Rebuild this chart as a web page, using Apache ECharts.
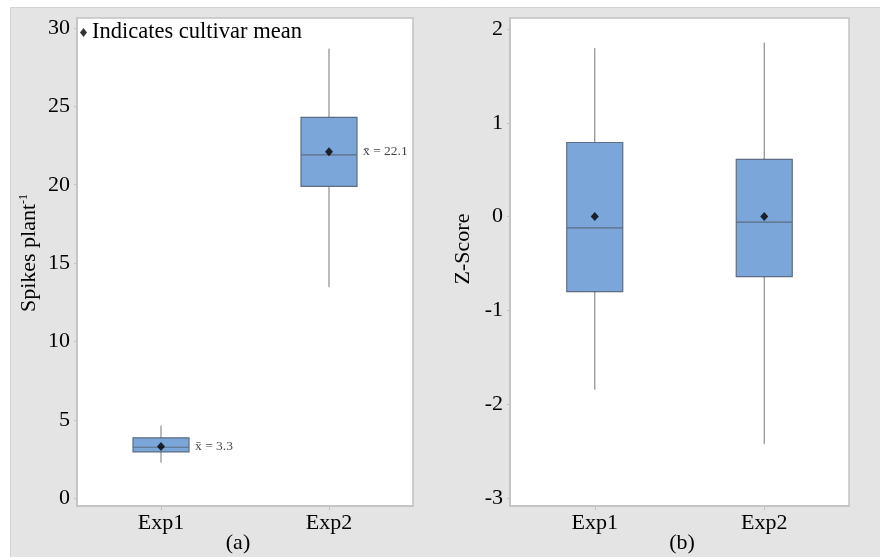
<!DOCTYPE html>
<html>
<head>
<meta charset="utf-8">
<script src="https://cdn.jsdelivr.net/npm/echarts@6/dist/echarts.min.js"></script>
<style>
html,body{margin:0;padding:0;background:#fff;}
#chart{width:880px;height:557px;}
</style>
</head>
<body>
<div id="chart"></div>
<script>
// ---- data ----
const categories = ['Exp1', 'Exp2'];
// [min, Q1, median, Q3, max]
const spikesBox = [[2.3, 2.95, 3.25, 3.85, 4.6], [13.5, 19.9, 21.9, 24.3, 28.65]];
const spikesMean = [3.3, 22.1];
const spikesMeanLabels = ['3.3', '22.1'];
const zBox = [[-1.84, -0.80, -0.12, 0.79, 1.79], [-2.42, -0.64, -0.06, 0.61, 1.85]];
const zMean = [0, 0];
const spikesTicks = [0, 5, 10, 15, 20, 25, 30];
const zTicks = [-3, -2, -1, 0, 1, 2];
const legendText = 'Indicates cultivar mean';
const panelLabels = ['(a)', '(b)'];
const yNames = ['Spikes plant', 'Z-Score'];

const FONT = "'Liberation Serif', 'Times New Roman', serif";
const FRAME = '#c2c2c2';
const BOXFILL = '#7ba6d9';
const BOXLINE = '#5e6d82';
const WHISK = '#8e8e8e';
const TXT = '#000';

function boxOnly(d) { return [d[1], d[1], d[2], d[3], d[3]]; }

function catAxis(gridIndex, show) {
  return {
    type: 'category', gridIndex: gridIndex, data: categories, boundaryGap: true, show: show,
    axisLine: { show: true, onZero: false, lineStyle: { color: FRAME, width: 1.5 } },
    axisTick: { show: true, alignWithLabel: true, length: 4, lineStyle: { color: FRAME } },
    axisLabel: { color: TXT, fontFamily: FONT, fontSize: 22, margin: 6 },
    splitLine: { show: false }
  };
}

function valAxis(gridIndex, min, max, ticks) {
  return {
    type: 'value', gridIndex: gridIndex, min: min, max: max,
    axisLine: { show: true, onZero: false, lineStyle: { color: FRAME, width: 1.5 } },
    axisTick: { show: true, length: 3, customValues: ticks, lineStyle: { color: FRAME } },
    axisLabel: { color: TXT, fontFamily: FONT, fontSize: 22, margin: 7, customValues: ticks },
    splitLine: { show: false }
  };
}

function whiskerSeries(xi, yi, data) {
  return {
    type: 'boxplot', xAxisIndex: xi, yAxisIndex: yi, z: 2,
    boxWidth: [1, 1],
    itemStyle: { color: WHISK, borderColor: WHISK, borderWidth: 1.2 },
    emphasis: { disabled: true },
    data: data
  };
}
function boxSeries(xi, yi, data) {
  return {
    type: 'boxplot', xAxisIndex: xi, yAxisIndex: yi, z: 3,
    boxWidth: [56, 56],
    itemStyle: { color: BOXFILL, borderColor: BOXLINE, borderWidth: 1.2 },
    emphasis: { disabled: true },
    data: data.map(boxOnly)
  };
}
function meanSeries(xi, yi, vals, labels) {
  return {
    type: 'scatter', name: legendText, xAxisIndex: xi, yAxisIndex: yi, z: 5,
    symbol: 'diamond', symbolSize: [8, 9],
    itemStyle: { color: '#000' },
    emphasis: { disabled: true },
    label: {
      show: !!labels, position: 'right', distance: 30,
      fontFamily: FONT, fontSize: 13.5, color: '#111',
      formatter: function (p) { return labels ? 'x\u0304 = ' + labels[p.dataIndex] : ''; }
    },
    data: vals.map(function (v, i) { return [categories[i], v]; })
  };
}

const chart = echarts.init(document.getElementById('chart'), null, { renderer: 'canvas' });
chart.setOption({
  animation: false,
  backgroundColor: '#fff',
  graphic: [
    { type: 'rect', z: -10, shape: { x: 10.5, y: 7.5, width: 880, height: 560 },
      style: { fill: '#e4e4e4', stroke: '#d2d2d2', lineWidth: 1 } },
    { type: 'text', x: 238, y: 543, z: 10,
      style: { text: panelLabels[0], font: '22px ' + FONT, fill: TXT, align: 'center', verticalAlign: 'middle' } },
    { type: 'text', x: 682, y: 543, z: 10,
      style: { text: panelLabels[1], font: '22px ' + FONT, fill: TXT, align: 'center', verticalAlign: 'middle' } },
    { type: 'text', x: 29, y: 253, rotation: Math.PI / 2, z: 10,
      style: {
        text: '{n|' + yNames[0] + '}{s|-1}', align: 'center', verticalAlign: 'middle',
        rich: {
          n: { fontFamily: FONT, fontSize: 22, fill: TXT },
          s: { fontFamily: FONT, fontSize: 12, fill: TXT, verticalAlign: 'top', padding: [0, 0, 10, 0] }
        }
      } },
    { type: 'text', x: 463, y: 249, rotation: Math.PI / 2, z: 10,
      style: { text: yNames[1], font: '22px ' + FONT, fill: TXT, align: 'center', verticalAlign: 'middle' } }
  ],
  legend: {
    data: [legendText], left: 80, top: 21, icon: 'diamond',
    itemWidth: 7, itemHeight: 9, itemGap: 4, padding: 0,
    textStyle: { fontFamily: FONT, fontSize: 22.5, color: TXT, padding: [0, 0, 0, 0] },
    selectedMode: false
  },
  grid: [
    { left: 77, right: 467, top: 18, bottom: 51, show: true, backgroundColor: '#fff', borderColor: FRAME, borderWidth: 1.5 },
    { left: 510, right: 31, top: 18, bottom: 51, show: true, backgroundColor: '#fff', borderColor: FRAME, borderWidth: 1.5 }
  ],
  xAxis: [catAxis(0, true), catAxis(1, true), catAxis(0, false), catAxis(1, false)],
  yAxis: [
    valAxis(0, -0.5, 30.64, spikesTicks),
    valAxis(1, -3.085, 2.117, zTicks)
  ],
  series: [
    whiskerSeries(2, 0, spikesBox),
    boxSeries(0, 0, spikesBox),
    meanSeries(0, 0, spikesMean, spikesMeanLabels),
    whiskerSeries(3, 1, zBox),
    boxSeries(1, 1, zBox),
    meanSeries(1, 1, zMean, null)
  ]
});
</script>
</body>
</html>
